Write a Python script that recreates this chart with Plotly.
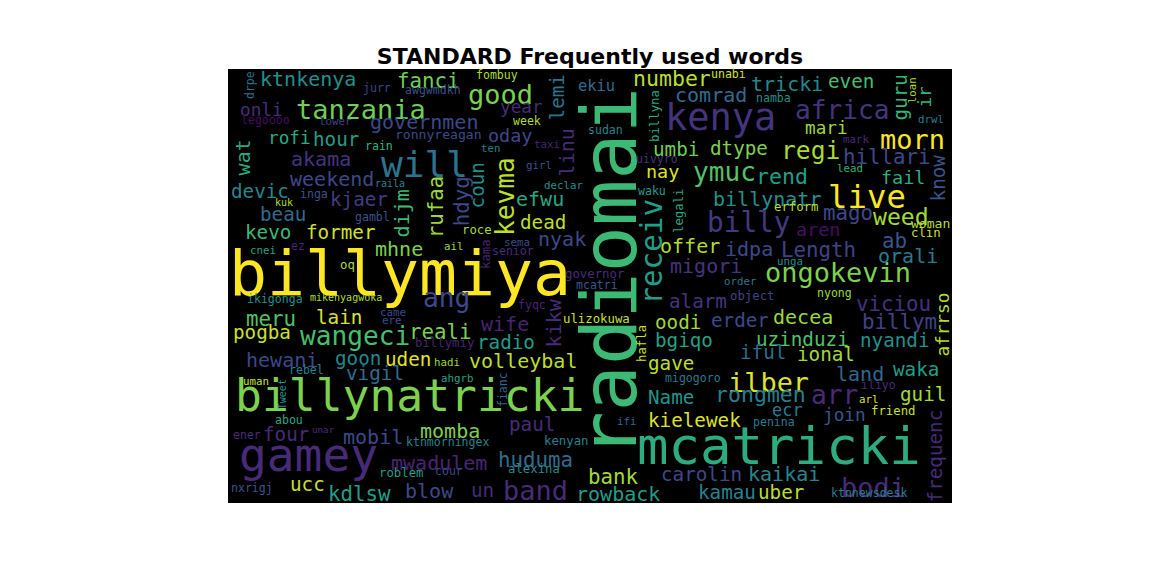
import plotly.graph_objects as go
from plotly.colors import sample_colorscale, make_colorscale, sequential

# word cloud data: word, relative frequency (100 = top word)
words = ["billymiya", "radiomai", "billynatricki", "mcatricki", "gamey", "kenya", "will", "tanzania",
         "good", "africa", "live", "morn", "regi", "ymuc", "billy", "kevma", "receiv", "ongokevin",
         "wangeci", "arr", "ilber", "bodi", "band", "ang", "governmen", "ktnkenya", "fanci", "drpe",
         "jurr", "awgwmdkh", "onli", "legoooo", "lower", "ronnyreagan", "rofi", "hour", "rain", "wat",
         "akama", "weekend", "raila", "devic", "inga", "kjaer", "kuk", "dijm", "rufaa", "hdyg", "coun",
         "beau", "gambl", "kevo", "former", "mhne", "cnei", "ez", "ail", "oq", "fombuy", "ekiu",
         "number", "lemi", "year", "week", "billyna", "sudan", "oday", "taxi", "ten", "linu", "umbi",
         "uivyro", "girl", "nay", "efwu", "declar", "waku", "legali", "dead", "roce", "nyak", "offer",
         "sema", "senior", "kama", "migori", "governor", "mcatri", "unabi", "tricki", "even", "guru",
         "loan", "ir", "comrad", "namba", "drwl", "mari", "dtype", "mark", "hillari", "rend", "fail",
         "lead", "know", "billynatr", "mago", "weed", "erform", "aren", "ab", "woman", "clin", "idpa",
         "Length", "orali", "unga", "order", "object", "nyong", "viciou", "afrrso", "alarm", "erder",
         "decea", "billym", "oodi", "uzinduzi", "nyandi", "bgiqo", "iful", "ional", "gave", "hafla",
         "land", "waka", "migogoro", "iliyo", "arl", "guil", "rongmen", "Name", "ecr", "join", "friend",
         "frequenc", "kielewek", "penina", "carolin", "kaikai", "kamau", "uber", "ktnnewsdesk",
         "ikigonga", "mikenyagwoka", "meru", "lain", "came", "ere", "reali", "pogba", "billymiy", "wife",
         "fyqc", "kikw", "ulizokuwa", "radio", "hewani", "goon", "uden", "hadi", "vigil", "volleybal",
         "rebel", "ahgrb", "uman", "Tweet", "fianc", "abou", "four", "unar", "ener", "mobil", "momba",
         "ktnmorningex", "paul", "kenyan", "ifi", "mwadulem", "huduma", "roblem", "cour", "alexina",
         "ucc", "kdlsw", "blow", "nxrigj", "un", "bank", "rowback"]

freq = [82, 100, 58, 68, 60, 48, 47, 35,
        35, 34, 42, 35, 32, 34, 36, 34, 38, 35,
        34, 34, 35, 35, 35, 34, 26, 26, 27, 15,
        15, 15, 23, 15, 14, 17, 23, 25, 15, 26,
        26, 26, 13, 25, 15, 25, 13, 26, 27, 27, 25,
        25, 15, 25, 25, 26, 14, 15, 14, 16, 15, 20,
        28, 25, 23, 15, 16, 15, 24, 14, 14, 26, 25,
        15, 14, 24, 26, 14, 15, 16, 25, 16, 26, 26,
        14, 15, 16, 26, 16, 15, 15, 26, 25, 25,
        14, 23, 26, 15, 14, 23, 25, 14, 27, 28, 24,
        14, 25, 26, 27, 30, 16, 24, 27, 17, 16, 26,
        27, 26, 14, 14, 16, 15, 27, 23, 25, 25,
        26, 27, 25, 25, 25, 25, 25, 25, 25, 16,
        26, 25, 15, 15, 14, 25, 28, 25, 22, 23, 16,
        25, 25, 15, 25, 26, 25, 25, 15,
        15, 13, 27, 25, 14, 14, 27, 25, 16, 26,
        15, 26, 16, 25, 26, 25, 25, 14, 25, 26,
        15, 14, 14, 13, 15, 15, 25, 12, 15, 26, 26,
        15, 25, 16, 14, 26, 27, 16, 15, 16,
        25, 27, 26, 15, 25, 27, 26]

# layout of the cloud canvas (724 x 434), word centres, orientation and colour tone
pos_x = [172, 387, 182, 551, 80, 492, 196, 133,
         272, 614, 639, 684, 582, 496, 520, 279, 426, 610,
         127, 606, 540, 645, 307, 218, 196, 80, 200, 23,
         149, 205, 33, 37, 107, 210, 61, 108, 151, 17,
         93, 104, 162, 32, 86, 131, 56, 176, 210, 236, 251,
         55, 144, 40, 113, 171, 35, 70, 225, 119, 269, 368,
         444, 331, 293, 299, 428, 377, 282, 319, 262, 341, 448,
         429, 311, 434, 312, 335, 424, 452, 315, 249, 334, 462,
         289, 285, 259, 478, 366, 369, 500, 559, 623, 674,
         685, 698, 483, 545, 703, 598, 511, 628, 659, 554, 675,
         622, 712, 539, 620, 673, 568, 590, 666, 702, 698, 521,
         590, 680, 562, 512, 524, 606, 665, 716, 470, 512,
         575, 671, 450, 574, 667, 456, 535, 598, 443, 415,
         632, 688, 465, 650, 640, 695, 532, 443, 559, 616, 665,
         709, 466, 546, 473, 556, 499, 553, 641,
         47, 118, 43, 111, 165, 163, 212, 34, 216, 277,
         304, 328, 368, 278, 54, 130, 180, 219, 147, 295,
         78, 229, 28, 55, 276, 61, 58, 95, 19, 145, 222,
         219, 304, 338, 398, 211, 307, 173, 221, 306,
         79, 131, 201, 24, 254, 385, 390]

pos_y = [209, 203, 331, 381, 390, 51, 98, 43,
         28, 43, 131, 73, 83, 105, 156, 127, 183, 206,
         269, 328, 316, 421, 424, 231, 55, 12, 14, 16,
         20, 22, 42, 52, 53, 67, 70, 72, 78, 88,
         92, 112, 115, 124, 126, 132, 134, 144, 138, 132, 116,
         147, 149, 165, 165, 182, 182, 178, 178, 197, 7, 18,
         11, 28, 39, 53, 47, 62, 68, 76, 80, 83, 82,
         91, 97, 104, 132, 117, 123, 142, 155, 162, 172, 179,
         174, 183, 185, 199, 206, 217, 6, 17, 14, 28,
         21, 28, 28, 30, 51, 60, 81, 71, 90, 109, 110,
         100, 109, 132, 146, 150, 139, 162, 174, 156, 165, 182,
         183, 189, 193, 213, 228, 225, 237, 256, 234, 253,
         250, 255, 255, 272, 273, 273, 285, 287, 296, 275,
         307, 302, 310, 317, 331, 327, 327, 330, 342, 347, 343,
         387, 353, 354, 407, 407, 425, 425, 425,
         231, 229, 252, 250, 244, 252, 265, 265, 275, 257,
         237, 254, 251, 275, 293, 291, 292, 294, 306, 294,
         302, 310, 313, 325, 321, 352, 367, 361, 367, 370, 364,
         374, 357, 373, 353, 396, 393, 405, 403, 401,
         417, 427, 424, 420, 423, 410, 427]

vertical = [0, 1, 0, 0, 0, 0, 0, 0,
            0, 0, 0, 0, 0, 0, 0, 1, 1, 0,
            0, 0, 0, 0, 0, 0, 0, 0, 0, 1,
            0, 0, 0, 0, 0, 0, 0, 0, 0, 1,
            0, 0, 0, 0, 0, 0, 0, 1, 1, 1, 1,
            0, 0, 0, 0, 0, 0, 0, 0, 0, 0, 0,
            0, 1, 0, 0, 1, 0, 0, 0, 0, 1, 0,
            0, 0, 0, 0, 0, 0, 1, 0, 0, 0, 0,
            0, 0, 1, 0, 0, 0, 0, 0, 0, 1,
            1, 1, 0, 0, 0, 0, 0, 0, 0, 0, 0,
            0, 1, 0, 0, 0, 0, 0, 0, 0, 0, 0,
            0, 0, 0, 0, 0, 0, 0, 1, 0, 0,
            0, 0, 0, 0, 0, 0, 0, 0, 0, 1,
            0, 0, 0, 0, 0, 0, 0, 0, 0, 0, 0,
            1, 0, 0, 0, 0, 0, 0, 0,
            0, 0, 0, 0, 0, 0, 0, 0, 0, 0,
            0, 1, 0, 0, 0, 0, 0, 0, 0, 0,
            0, 0, 0, 1, 1, 0, 0, 0, 0, 0, 0,
            0, 0, 0, 0, 0, 0, 0, 0, 0,
            0, 0, 0, 0, 0, 0, 0]

tone = [1.0, 0.68, 0.8, 0.62, 0.12, 0.15, 0.38, 0.78,
        0.8, 0.15, 1.0, 1.0, 0.87, 0.72, 0.17, 0.9, 0.56, 0.8,
        0.7, 0.12, 0.95, 0.12, 0.12, 0.22, 0.22, 0.5, 0.78, 0.38,
        0.2, 0.25, 0.13, 0.03, 0.2, 0.22, 0.62, 0.56, 0.65, 0.6,
        0.15, 0.22, 0.45, 0.47, 0.25, 0.18, 0.88, 0.68, 0.85, 0.22, 0.5,
        0.34, 0.25, 0.68, 0.93, 0.8, 0.58, 0.1, 0.85, 0.88, 0.88, 0.35,
        0.9, 0.38, 0.12, 0.88, 0.6, 0.45, 0.22, 0.1, 0.44, 0.12, 0.78,
        0.15, 0.25, 0.95, 0.6, 0.5, 0.55, 0.6, 0.9, 0.86, 0.22, 0.88,
        0.22, 0.12, 0.1, 0.15, 0.12, 0.27, 0.93, 0.47, 0.7, 0.66,
        0.88, 0.65, 0.35, 0.5, 0.42, 0.85, 0.8, 0.12, 0.22, 0.56, 0.62,
        0.64, 0.26, 0.5, 0.22, 0.86, 0.9, 0.04, 0.26, 0.88, 0.92, 0.22,
        0.2, 0.42, 0.48, 0.4, 0.2, 0.85, 0.14, 0.88, 0.15, 0.22,
        0.85, 0.2, 0.85, 0.72, 0.5, 0.57, 0.35, 0.86, 0.9, 0.92,
        0.33, 0.56, 0.4, 0.12, 0.95, 0.86, 0.43, 0.52, 0.42, 0.27, 0.92,
        0.12, 0.95, 0.42, 0.22, 0.46, 0.45, 0.9, 0.42,
        0.5, 0.88, 0.72, 0.95, 0.22, 0.24, 0.8, 0.92, 0.1, 0.1,
        0.1, 0.12, 0.92, 0.55, 0.22, 0.46, 0.96, 0.85, 0.35, 0.9,
        0.44, 0.58, 0.92, 0.5, 0.32, 0.6, 0.12, 0.12, 0.12, 0.22, 0.8,
        0.44, 0.12, 0.44, 0.33, 0.1, 0.35, 0.56, 0.22, 0.48,
        0.92, 0.56, 0.22, 0.26, 0.12, 0.86, 0.56]

MAX_FONT = 77
CANVAS_W, CANVAS_H = 724, 434
SHIFT = 0.08  # baseline correction, in em

colors = sample_colorscale(make_colorscale(sequential.Viridis), tone)

annotations = []
for w, f, x, y, v, c in zip(words, freq, pos_x, pos_y, vertical, colors):
    size = MAX_FONT * f / 100
    ann = dict(x=x, y=y, xref="x", yref="y", text=w, showarrow=False,
               font=dict(family="DejaVu Sans Mono", size=size, color=c),
               xanchor="center", yanchor="middle")
    if v:
        ann["textangle"] = -90
        ann["xshift"] = -SHIFT * size
    else:
        ann["yshift"] = SHIFT * size
    annotations.append(ann)

fig = go.Figure()
fig.add_trace(go.Scatter(x=pos_x, y=pos_y, mode="markers", text=words,
                         marker=dict(opacity=0), hoverinfo="text", showlegend=False))

# the page body adds an 8px offset, so margins are trimmed to keep the canvas in place
fig.update_layout(
    width=1152, height=576,
    margin=dict(l=220, r=208, t=61, b=81),
    paper_bgcolor="white", plot_bgcolor="black",
    annotations=annotations,
    title=dict(text="<b>STANDARD Frequently used words</b>", x=0.5, xref="paper",
               y=1 - 48 / 576, yref="container", yanchor="middle", xanchor="center",
               font=dict(family="DejaVu Sans", size=22, color="black")),
    xaxis=dict(range=[0, CANVAS_W], visible=False, fixedrange=True),
    yaxis=dict(range=[CANVAS_H, 0], visible=False, fixedrange=True),
)

fig.write_html("out.html")
